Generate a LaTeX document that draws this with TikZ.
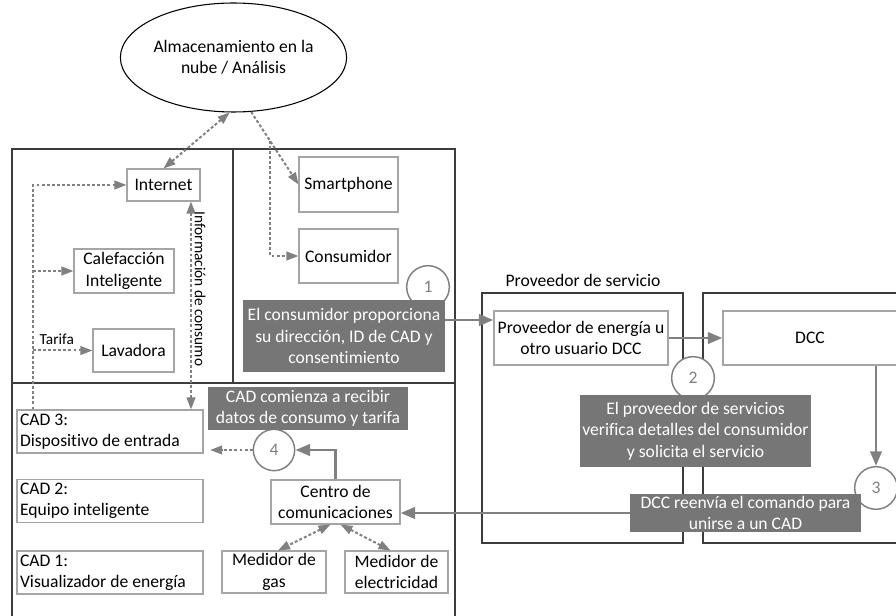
\documentclass[tikz,border=0pt]{standalone}
\usepackage{fontspec}
\setmainfont[Ligatures=NoCommon]{Carlito}
\usetikzlibrary{shapes.geometric,arrows.meta,calc}
\definecolor{linegray}{RGB}{128,128,128}
\definecolor{notegray}{RGB}{118,118,118}
\definecolor{edgegray}{RGB}{165,165,165}
\definecolor{framegray}{RGB}{60,60,60}
\begin{document}
\begin{tikzpicture}[x=0.75pt,y=-0.75pt,
    font=\fontsize{13.2}{16}\selectfont,
    box/.style={draw=edgegray,line width=0.8pt,fill=white,inner sep=0pt,align=center},
    cadbox/.style={box,text width=135pt,inner xsep=2.25pt,align=flush left,minimum height=32.25pt},
    note/.style={fill=notegray,text=white,inner sep=0pt,align=center},
    numcirc/.style={circle,draw=linegray,line width=1.1pt,fill=white,text=linegray,minimum size=32pt,inner sep=0pt},
    frame/.style={draw=framegray,line width=0.8pt},
    solidarrow/.style={draw=linegray,line width=2.2pt,-{Triangle[length=11pt,width=8.5pt]}},
    dotarrow/.style={draw=linegray,line width=1.5pt,dash pattern=on 2.2pt off 1.6pt,-{Triangle[length=9pt,width=6.5pt]}},
    smalltext/.style={font=\fontsize{11.5}{13}\selectfont}
  ]
  \useasboundingbox (0,0) rectangle (896,616);

  % Frames
  \draw[frame] (12,630) -- (12,149) -- (455,149) -- (455,630);
  \draw[frame] (233,149) -- (233,383);
  \draw[frame] (12,383) -- (455,383);
  \draw[frame] (482,293) rectangle (683,543);
  \draw[frame] (905,293) -- (703,293) -- (703,543) -- (905,543);

  % Cloud
  \node[ellipse,draw=black,line width=0.8pt,minimum width=162.75pt,minimum height=81.75pt,inner sep=0pt,align=center] (cloud) at (233.5,57.5) {Almacenamiento en la\\nube / Análisis};

  % Home area
  \node[box,minimum width=54.75pt,minimum height=24pt] (internet) at (163.5,185) {Internet};
  \node[box,minimum width=74.25pt,minimum height=41.25pt] (smart) at (348.5,184.5) {Smartphone};
  \node[box,minimum width=74.25pt,minimum height=40.5pt] (consum) at (348.5,256) {Consumidor};
  \node[box,minimum width=75pt,minimum height=33pt] (calef) at (124,271) {Calefacción\\Inteligente};
  \node[box,minimum width=60.75pt,minimum height=32.25pt] (lava) at (133.5,350.5) {Lavadora};
  \node[cadbox] (cad3) at (110,431.5) {CAD 3:\\Dispositivo de entrada};
  \node[cadbox] (cad2) at (110,501) {CAD 2:\\Equipo inteligente};
  \node[cadbox] (cad1) at (110,572.5) {CAD 1:\\Visualizador de energía};
  \node[box,minimum width=96.75pt,minimum height=33pt] (centro) at (335.5,502) {Centro de\\comunicaciones};
  \node[box,minimum width=78pt,minimum height=31.5pt] (gas) at (274,572) {Medidor de\\gas};
  \node[box,minimum width=77.25pt,minimum height=31.5pt] (elec) at (396.5,572) {Medidor de\\electricidad};

  % Service provider and DCC
  \node (provlbl) at (583,280) {Proveedor de servicio};
  \node[box,minimum width=130.5pt,minimum height=40.5pt] (prov) at (581,338) {Proveedor de energía u\\otro usuario DCC};
  \node[box,minimum width=130.5pt,minimum height=40.5pt] (dcc) at (810,338) {DCC};

  % Steps
  \node[numcirc] (c1) at (428,287) {1};
  \node[numcirc] (c2) at (693,378) {2};
  \node[numcirc] (c3) at (876,488) {3};
  \node[numcirc,minimum size=31pt] (c4) at (274,450) {4};
  \node[note,minimum width=151.5pt,minimum height=54pt] (g1) at (344,336) {El consumidor proporciona\\su dirección, ID de CAD y\\consentimiento};
  \node[note,minimum width=173.25pt,minimum height=54pt] (g2) at (695.5,431) {El proveedor de servicios\\verifica detalles del consumidor\\y solicita el servicio};
  \node[note,minimum width=173.25pt,minimum height=28.5pt] (g3) at (745.5,513) {DCC reenvía el comando para\\unirse a un CAD};
  \node[note,minimum width=150pt,minimum height=32.25pt] (g4) at (308,408.5) {CAD comienza a recibir\\datos de consumo y tarifa};

  % Dotted links
  \draw[dotarrow,{Triangle[length=9pt,width=6.5pt]}-{Triangle[length=9pt,width=6.5pt]}] (cloud.266) -- (internet.north);
  \draw[dotarrow] (cloud.288) -- (smart.west);
  \coordinate (fork) at ($(cloud.288)!0.4!(smart.west)$);
  \draw[dotarrow] (fork) |- (consum.west);
  \coordinate (lt) at (33,184);
  \draw[dotarrow] (cad3.north -| lt) |- (internet.west);
  \draw[dotarrow] (lt |- calef.west) -- (calef.west);
  \draw[dotarrow] (lt |- lava.west) -- (lava.west) node[pos=0.4,above,smalltext,text=black] {Tarifa};
  \coordinate (infox) at (191,0);
  \draw[dotarrow,{Triangle[length=9pt,width=6.5pt]}-{Triangle[length=9pt,width=6.5pt]}] (internet.south -| infox) -- (cad3.north -| infox)
    node[pos=0.42,rotate=-90,anchor=south,inner sep=2pt,smalltext,text=black] {Información de consumo};
  \draw[dotarrow,shorten >=5pt] (c4.west) -- (cad3.east |- c4.west);
  \draw[dotarrow,{Triangle[length=9pt,width=6.5pt]}-{Triangle[length=9pt,width=6.5pt]}] ($(centro.south)+(-5,0)$) -- ($(gas.north)+(4,0)$);
  \draw[dotarrow,{Triangle[length=9pt,width=6.5pt]}-{Triangle[length=9pt,width=6.5pt]}] ($(centro.south)+(5,0)$) -- ($(elec.north)+(-6,0)$);

  % Solid links
  \coordinate (a1) at (0,320);
  \draw[solidarrow] (g1.east |- a1) -- (prov.west |- a1);
  \draw[solidarrow] (prov.east) -- (dcc.west);
  \draw[solidarrow] (dcc.south -| c3.north) -- (c3.north);
  \draw[solidarrow] (g3.west) -- (centro.east |- g3.west);
  \draw[solidarrow] (centro.north) |- (c4.east);
\end{tikzpicture}
\end{document}
